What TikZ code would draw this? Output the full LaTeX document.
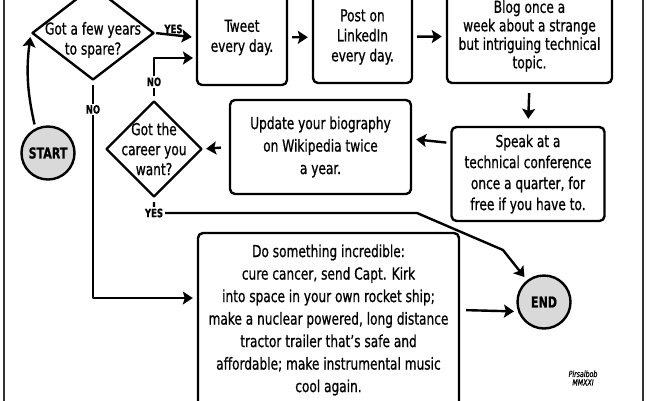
\documentclass[tikz,border=0pt]{standalone}
\usepackage{fontspec}
\setmainfont{DejaVu Sans Condensed}[FakeStretch=0.82,FakeBold=0.8]
\usetikzlibrary{arrows.meta,shapes.geometric}

\begin{document}
\begin{tikzpicture}[->,>={Stealth[length=10pt,width=13pt,inset=2pt]},shorten >=4pt,shorten <=4pt,
  x=1pt,y=-1pt,line width=2.4pt,line join=round]
  \tikzstyle{every node}=[font=\fontsize{16.5}{20}\selectfont]
  \tikzstyle{box}=[draw,rounded corners=5pt,align=center,inner sep=0pt]
  \tikzstyle{decision}=[draw,diamond,align=center,inner sep=-14pt]
  \tikzstyle{terminal}=[draw,circle,fill=black!15,minimum size=53pt,inner sep=0pt,
    font=\fontsize{15}{17}\selectfont\bfseries]
  \tikzstyle{answer}=[fill=white,inner sep=1.5pt,font=\fontsize{11.5}{12}\selectfont\bfseries]

  \clip (0,0) rectangle (650,400);

  \draw[-,line width=1.6pt,black!80] (4,-10) -- (4,410) (643,-10) -- (643,410);

  \node[terminal] (start) at (48,153) {START};
  \node[decision,minimum width=122pt,minimum height=94pt] (spare) at (93,33) {};
  \node[align=center] (sparetext) at (93,40) {Got a few years\\to spare?};
  \node[box,minimum width=90pt,minimum height=95pt] (tweet) at (242,37.5)
    {Tweet\\every day.};
  \node[box,minimum width=99pt,minimum height=92pt] (post) at (362.5,37)
    {Post on\\LinkedIn\\every day.};
  \node[box,minimum width=165pt,minimum height=94pt,font=\fontsize{16.5}{18.5}\selectfont]
    (blog) at (529.5,36)
    {Blog once a\\week about a strange\\but intriguing technical\\topic.};
  \node[box,minimum width=153pt,minimum height=94pt,font=\fontsize{16.5}{21}\selectfont]
    (speak) at (528,174)
    {Speak at a\\technical conference\\once a quarter, for\\free if you have to.};
  \node[box,minimum width=181pt,minimum height=94pt,font=\fontsize{16.5}{22.5}\selectfont]
    (update) at (320.5,147)
    {Update your biography\\on Wikipedia twice\\a year.};
  \node[decision,minimum width=96pt,minimum height=96pt] (career) at (154,149)
    {Got the\\career you\\want?};
  \node[box,minimum width=261pt,minimum height=174pt,font=\fontsize{16.5}{22.5}\selectfont]
    (big) at (328.5,320)
    {Do something incredible:\\cure cancer, send Capt. Kirk\\into space in your own rocket ship;\\
     make a nuclear powered, long distance\\tractor trailer that's safe and\\
     affordable; make instrumental music\\cool again.};
  \node[terminal] (end) at (544,302) {END};
  \node[font=\fontsize{8.5}{8.5}\selectfont\itshape,align=center] (sig) at (583,378)
    {Pirsalbob\\MMXXI};

  \coordinate (noin) at (197,58);
  \coordinate (nocorner) at (93,298);
  \coordinate (yescorner) at (154,213);
  \coordinate (yesbend) at (417,213);
  \coordinate (yesdrop) at (503,250);

  \path (start.117) edge [bend left=10]               (spare.west)
        (spare.east) edge [shorten <=1pt] node [answer,above,fill=none,inner sep=0.5pt,pos=0.45] {YES} (tweet.west)
        (tweet)      edge                             (post)
        (post)       edge                             (blog)
        (blog.south) edge [shorten <=9pt,shorten >=7pt] (speak.north)
        ([yshift=31pt]speak.west) edge               ([yshift=8pt]update.east)
        (update.west) edge [shorten <=8pt,shorten >=3pt] (career.east)
        ([yshift=10pt]big.east) edge [shorten <=6pt]  (end.200);

  \draw (career.north) -- node [answer,pos=0.43] {NO} (career.north |- noin) -- (noin);
  \draw (spare.south) -- node [answer,pos=0.13] {NO} (nocorner) -- (big.west |- nocorner);
  \draw (career.south) -- (yescorner) node [answer] {YES} -- (yesbend) -- (yesdrop) -- (end.128);
\end{tikzpicture}
\end{document}
